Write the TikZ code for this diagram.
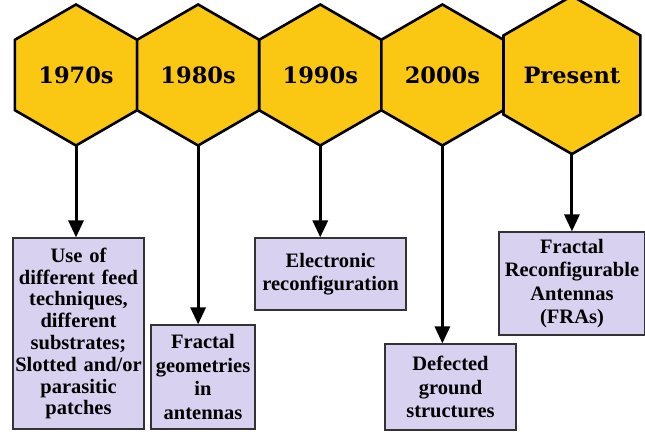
\documentclass[tikz,border=0pt]{standalone}
\usepackage{fontspec}
\setmainfont{Liberation Serif}
\newfontfamily\slabfont{DejaVu Serif}
\usetikzlibrary{shapes.geometric}
\usetikzlibrary{arrows.meta}
\usetikzlibrary{positioning}
\definecolor{hexgold}{RGB}{250,199,18}
\definecolor{boxlilac}{RGB}{216,210,240}

\begin{document}
\begin{tikzpicture}[x=1pt,y=-1pt,
  era/.style={regular polygon, regular polygon sides=6, shape border rotate=30,
    minimum size=141pt, inner sep=0pt, outer sep=0pt, draw=black, line width=2.6pt,
    fill=hexgold, font=\slabfont\fontsize{22.5}{26}\selectfont\bfseries},
  event/.style={draw=black!80, line width=1.2pt, fill=boxlilac, inner sep=0pt,
    align=center, font=\fontsize{20.5}{23.5}\selectfont\bfseries},
  link/.style={line width=3pt, -{Triangle[length=17pt,width=15pt]}}]
\useasboundingbox (0,0) rectangle (645,431);
% the time line
\node[era] (h1) at (76,75) {1970s};
\node[era, right=0pt of h1] (h2) {1980s};
\node[era, right=0pt of h2] (h3) {1990s};
\node[era, right=0pt of h3] (h4) {2000s};
\node[era, right=0pt of h4] (h5) {Present};
% what came with each decade
\node[event, text width=131pt, minimum height=191pt, font=\fontsize{20.5}{21.8}\selectfont\bfseries] (b1) at (78.5,333.5)
  {Use of\\different feed\\techniques,\\different\\substrates;\\Slotted and/or\\parasitic\\patches};
\node[event, text width=104pt, minimum height=104pt] (b2) at (203,377)
  {Fractal\\geometries\\in\\antennas};
\node[event, text width=151pt, minimum height=72pt] (b3) at (330.5,274)
  {Electronic\\reconfiguration};
\node[event, text width=131pt, minimum height=86pt] (b4) at (450.5,387)
  {Defected\\ground\\structures};
\node[event, text width=146pt, minimum height=103pt] (b5) at (572,283.5)
  {Fractal\\Reconfigurable\\Antennas\\(FRAs)};
% arrows
\draw[link] (h1.south) -- (h1.south |- b1.north);
\draw[link] (h2.south) -- (h2.south |- b2.north);
\draw[link] (h3.south) -- (h3.south |- b3.north);
\draw[link] (h4.south) -- (h4.south |- b4.north);
\draw[link] (h5.south) -- (h5.south |- b5.north);
\end{tikzpicture}
\end{document}
